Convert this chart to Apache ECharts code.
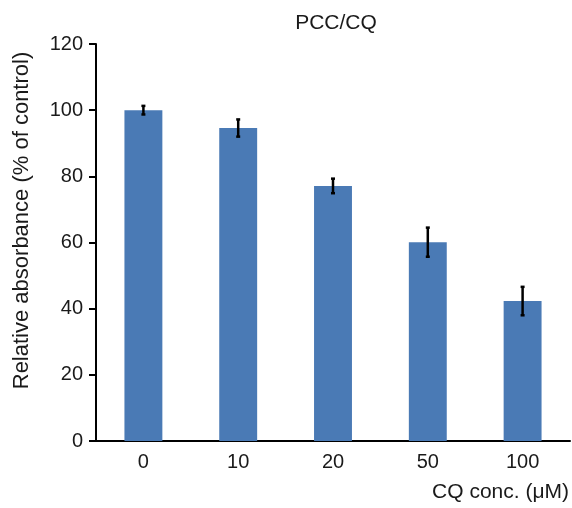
<!DOCTYPE html>
<html>
<head>
<meta charset="utf-8">
<script src="https://cdn.jsdelivr.net/npm/echarts@6/dist/echarts.min.js"></script>
<style>
  html, body { margin: 0; padding: 0; background: #fff; }
  #chart { width: 572px; height: 508px; }
</style>
</head>
<body>
<div id="chart"></div>
<script>
// data
const categories = ['0', '10', '20', '50', '100'];
const values = [100, 94.6, 77.1, 60.1, 42.3];
const errors = [1.3, 2.6, 2.2, 4.4, 4.3];
const yTicks = [0, 20, 40, 60, 80, 100, 120];

const BAR_COLOR = '#4a7ab5';
const TEXT_COLOR = '#1a1a1a';
const FONT = 'Liberation Sans, Arial, sans-serif';

const chart = echarts.init(document.getElementById('chart'));

const errorData = values.map((v, i) => [i, v - errors[i], v + errors[i]]);

const option = {
  backgroundColor: '#fff',
  animation: false,
  title: {
    text: 'PCC/CQ',
    left: 331,
    textAlign: 'center',
    top: 8,
    textStyle: { fontFamily: FONT, fontSize: 21, fontWeight: 'normal', color: TEXT_COLOR }
  },
  grid: { left: 96, right: 1, top: 44, bottom: 67 },
  xAxis: {
    type: 'category',
    data: categories,
    name: 'CQ conc. (μM)',
    nameLocation: 'end',
    nameGap: 0,
    nameTextStyle: {
      fontFamily: FONT, fontSize: 21, color: TEXT_COLOR,
      align: 'right', verticalAlign: 'top', padding: [41, 1, 0, 0]
    },
    axisLine: { lineStyle: { color: '#000', width: 2 } },
    axisTick: { show: false },
    axisLabel: { fontFamily: FONT, fontSize: 20, color: TEXT_COLOR, margin: 11 }
  },
  yAxis: {
    type: 'value',
    min: 0,
    max: 120,
    interval: 20,
    name: 'Relative absorbance (% of control)',
    nameLocation: 'middle',
    nameGap: 63,
    nameTextStyle: { fontFamily: FONT, fontSize: 22, color: TEXT_COLOR, padding: [0, 0, 0, 44] },
    axisLine: { show: true, lineStyle: { color: '#000', width: 2 } },
    axisTick: { show: true, inside: false, length: 7, lineStyle: { color: '#000', width: 2 } },
    axisLabel: {
      fontFamily: FONT, fontSize: 20, color: TEXT_COLOR, margin: 13,
      formatter: (v) => (yTicks.includes(v) ? String(v) : '')
    },
    splitLine: { show: false }
  },
  series: [
    {
      type: 'bar',
      data: values,
      barWidth: '40%',
      itemStyle: { color: BAR_COLOR }
    },
    {
      type: 'custom',
      data: errorData,
      z: 10,
      renderItem: (params, api) => {
        const x = api.value(0);
        const lo = api.coord([x, api.value(1)]);
        const hi = api.coord([x, api.value(2)]);
        const cap = 2;
        const style = { stroke: '#000', lineWidth: 2.5 };
        return {
          type: 'group',
          children: [
            { type: 'line', shape: { x1: hi[0], y1: hi[1], x2: lo[0], y2: lo[1] }, style },
            { type: 'line', shape: { x1: hi[0] - cap, y1: hi[1], x2: hi[0] + cap, y2: hi[1] }, style },
            { type: 'line', shape: { x1: lo[0] - cap, y1: lo[1], x2: lo[0] + cap, y2: lo[1] }, style }
          ]
        };
      }
    }
  ]
};

chart.setOption(option);
</script>
</body>
</html>
